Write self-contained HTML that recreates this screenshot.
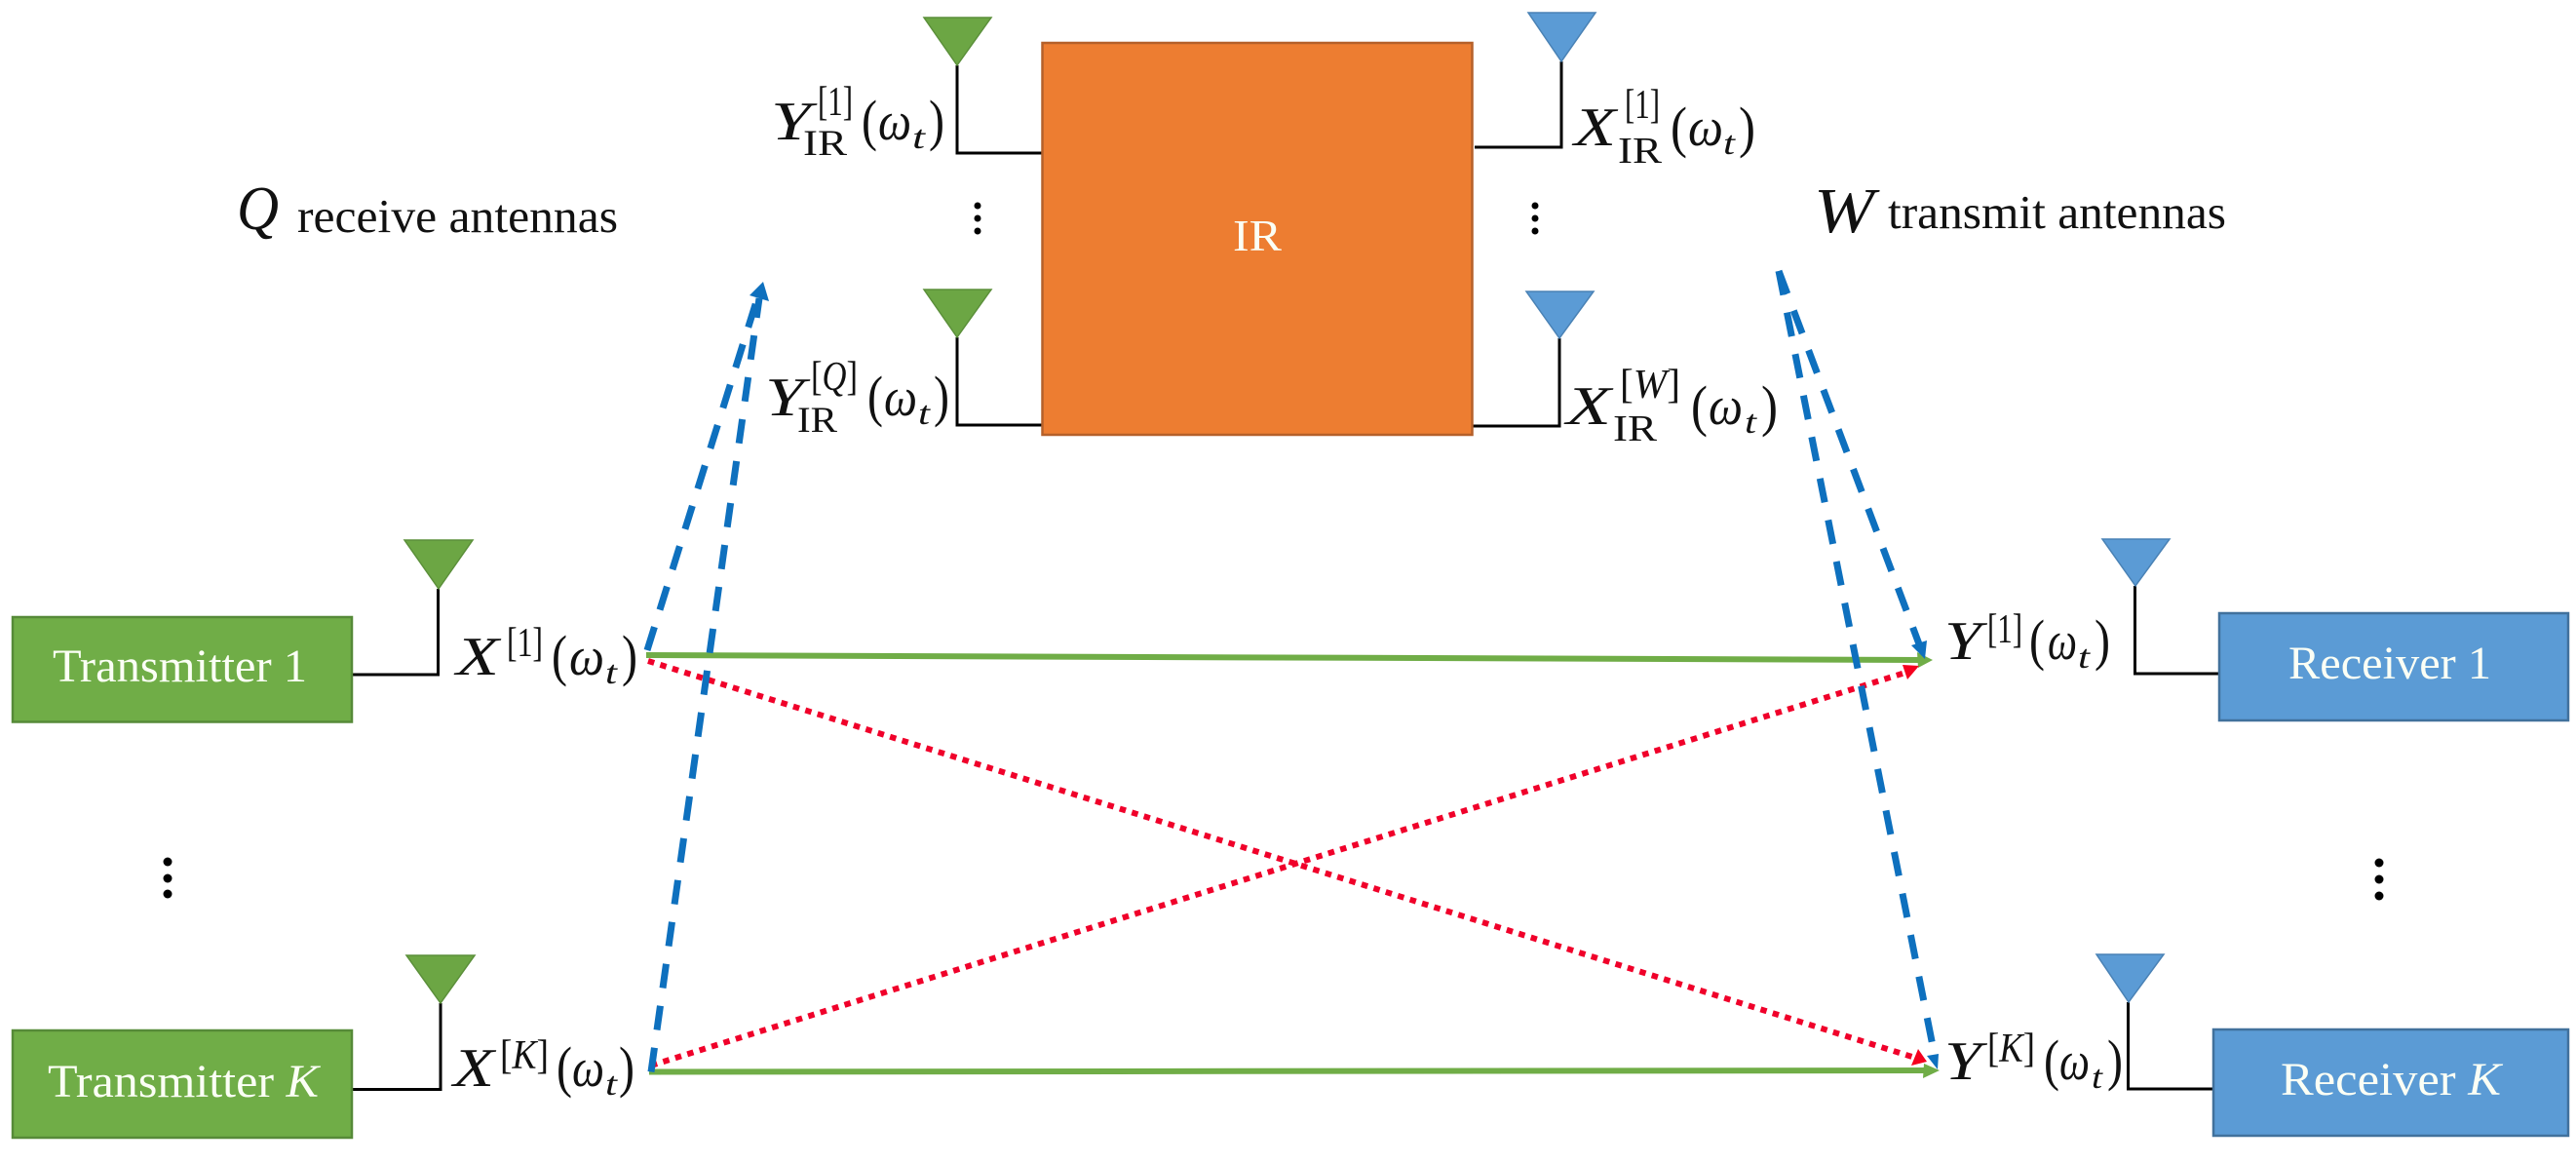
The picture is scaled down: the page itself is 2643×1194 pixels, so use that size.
<!DOCTYPE html>
<html><head><meta charset="utf-8"><style>
html,body{margin:0;padding:0;background:#fff}
svg{display:block}
text{font-family:"Liberation Serif",serif;fill:#111}
.i{font-style:italic}
.w{fill:#fbfff5}
.M{font-size:56px}
.S{font-size:42px}
.B{font-size:37px}
.P{font-size:58px;font-weight:normal}
.T{font-size:34px;font-style:italic}
.L{font-size:49px}
</style></head><body>
<svg width="2643" height="1194" viewBox="0 0 2643 1194" xmlns="http://www.w3.org/2000/svg">
<rect width="2643" height="1194" fill="#fff"/>

<!-- wiring -->
<g fill="none" stroke="#000" stroke-width="3">
<path d="M982 67V157H1069"/><path d="M982 346V436H1069"/>
<path d="M1602 63V151H1513"/><path d="M1600 347V437H1511"/>
<path d="M449.500 604V692H361"/><path d="M452 1029V1117.500H361"/>
<path d="M2190.500 601V691H2276"/><path d="M2183.500 1028V1117H2270"/>
</g>

<!-- boxes -->
<rect x="1069.500" y="44" width="441" height="402" fill="#ED7D31" stroke="#B5602A" stroke-width="2.500"/>
<rect x="13" y="633" width="348" height="107.500" fill="#70AD47" stroke="#568A38" stroke-width="2.500"/>
<rect x="13" y="1057" width="348" height="110" fill="#70AD47" stroke="#568A38" stroke-width="2.500"/>
<rect x="2277" y="629" width="358" height="110" fill="#5B9BD5" stroke="#41719C" stroke-width="2.500"/>
<rect x="2271" y="1056" width="364" height="109" fill="#5B9BD5" stroke="#41719C" stroke-width="2.500"/>

<!-- antennas -->
<g fill="#6CA644" stroke="#5B8F3A" stroke-width="1.500">
<polygon points="948,18 1017,18 982,67"/><polygon points="948,297 1017,297 982,346"/>
<polygon points="415,554 485,554 450,604"/><polygon points="417,980 487,980 452,1029"/>
</g>
<g fill="#5B9BD5" stroke="#4A82B5" stroke-width="1.500">
<polygon points="1568,13 1637,13 1602,63"/><polygon points="1566,299 1635,299 1600,347"/>
<polygon points="2157,553 2226,553 2191,601"/><polygon points="2151,979 2220,979 2184,1028"/>
</g>

<!-- dots -->
<g fill="#000">
<circle cx="1003" cy="211" r="3.500"/><circle cx="1003" cy="224" r="3.500"/><circle cx="1003" cy="237" r="3.500"/>
<circle cx="1575" cy="211" r="3.500"/><circle cx="1575" cy="224" r="3.500"/><circle cx="1575" cy="237" r="3.500"/>
<circle cx="172" cy="884" r="4.500"/><circle cx="172" cy="901" r="4.500"/><circle cx="172" cy="917" r="4.500"/>
<circle cx="2441" cy="885" r="4.500"/><circle cx="2441" cy="902" r="4.500"/><circle cx="2441" cy="919" r="4.500"/>
</g>

<!-- green arrows -->
<g stroke="#70AD47" stroke-width="6" fill="none">
<line x1="663" y1="672" x2="1975" y2="677"/>
<line x1="666" y1="1099.500" x2="1980" y2="1098"/>
</g>
<polygon points="1967,669 1983,677 1968,685" fill="#70AD47"/>
<polygon points="1974,1091 1990,1098 1973,1106" fill="#70AD47"/>

<!-- red dotted -->
<g stroke="#F0002A" stroke-width="6" fill="none" stroke-dasharray="6.500 6.500">
<line x1="665" y1="678" x2="1965" y2="1085"/>
<line x1="668" y1="1093" x2="1958" y2="689"/>
</g>
<polygon points="1952,682 1969,683 1957,697" fill="#F5001E"/>
<polygon points="1968,1076 1977,1089 1961,1093" fill="#F5001E"/>

<!-- blue dashed -->
<g stroke="#0E70BE" stroke-width="7" fill="none" stroke-dasharray="25 18.400">
<line x1="664" y1="667" x2="777" y2="306"/>
<line x1="668" y1="1099.500" x2="779" y2="306"/>
<line x1="1825" y1="278" x2="1971" y2="666"/>
<line x1="1825" y1="278" x2="1985" y2="1083"/>
</g>
<polygon points="769,303 789,309 783,289" fill="#0E70BE"/>
<polygon points="1961,662 1977,657 1975,676" fill="#0E70BE"/>
<polygon points="1977,1083 1989,1081 1988,1097" fill="#0E70BE"/>

<!-- box labels -->
<text class="w" x="1265" y="257" font-size="46" textLength="50" lengthAdjust="spacingAndGlyphs">IR</text>
<text class="w" x="54" y="699" font-size="48" textLength="261" lengthAdjust="spacingAndGlyphs">Transmitter 1</text>
<text class="w" x="49" y="1125" font-size="48" textLength="278" lengthAdjust="spacingAndGlyphs">Transmitter <tspan class="i">K</tspan></text>
<text class="w" x="2348" y="696" font-size="48" textLength="208" lengthAdjust="spacingAndGlyphs">Receiver 1</text>
<text class="w" x="2340" y="1123" font-size="48" textLength="226" lengthAdjust="spacingAndGlyphs">Receiver <tspan class="i">K</tspan></text>

<!-- side labels -->
<text class="i" x="243" y="235" font-size="64" textLength="43" lengthAdjust="spacingAndGlyphs">Q</text>
<text class="L" x="305" y="238" textLength="329" lengthAdjust="spacingAndGlyphs">receive antennas</text>
<text class="i" x="1861" y="238" font-size="66" textLength="62" lengthAdjust="spacingAndGlyphs">W</text>
<text class="L" x="1937" y="234" textLength="347" lengthAdjust="spacingAndGlyphs">transmit antennas</text>

<!-- Y_IR^[1] -->
<text class="M i" x="791" y="143" textLength="41" lengthAdjust="spacingAndGlyphs">Y</text>
<text class="S" x="839" y="118" textLength="36" lengthAdjust="spacingAndGlyphs">[1]</text>
<text class="B" x="824" y="159" textLength="45" lengthAdjust="spacingAndGlyphs">IR</text>
<text class="P" x="884" y="143" textLength="16" lengthAdjust="spacingAndGlyphs">(</text>
<text class="M i" x="901" y="143" textLength="34" lengthAdjust="spacingAndGlyphs">ω</text>
<text class="T" x="936" y="152" textLength="13" lengthAdjust="spacingAndGlyphs">t</text>
<text class="P" x="953" y="143" textLength="16" lengthAdjust="spacingAndGlyphs">)</text>

<!-- Y_IR^[Q] -->
<text class="M i" x="785" y="426" textLength="40" lengthAdjust="spacingAndGlyphs">Y</text>
<text class="S" x="832" y="400" textLength="48" lengthAdjust="spacingAndGlyphs">[<tspan class="i">Q</tspan>]</text>
<text class="B" x="818" y="443" textLength="41" lengthAdjust="spacingAndGlyphs">IR</text>
<text class="P" x="890" y="426" textLength="16" lengthAdjust="spacingAndGlyphs">(</text>
<text class="M i" x="907" y="426" textLength="34" lengthAdjust="spacingAndGlyphs">ω</text>
<text class="T" x="942" y="435" textLength="12" lengthAdjust="spacingAndGlyphs">t</text>
<text class="P" x="958" y="426" textLength="16" lengthAdjust="spacingAndGlyphs">)</text>

<!-- X_IR^[1] -->
<text class="M i" x="1615" y="149" textLength="43" lengthAdjust="spacingAndGlyphs">X</text>
<text class="S" x="1667" y="121" textLength="36" lengthAdjust="spacingAndGlyphs">[1]</text>
<text class="B" x="1660" y="167" style="font-size:38px" textLength="45" lengthAdjust="spacingAndGlyphs">IR</text>
<text class="P" x="1714" y="150" textLength="17" lengthAdjust="spacingAndGlyphs">(</text>
<text class="M i" x="1732" y="149" textLength="36" lengthAdjust="spacingAndGlyphs">ω</text>
<text class="T" x="1768" y="158" textLength="12" lengthAdjust="spacingAndGlyphs">t</text>
<text class="P" x="1784" y="150" textLength="17" lengthAdjust="spacingAndGlyphs">)</text>

<!-- X_IR^[W] -->
<text class="M i" x="1607" y="435" textLength="46" lengthAdjust="spacingAndGlyphs">X</text>
<text class="S" x="1662" y="408" textLength="62" lengthAdjust="spacingAndGlyphs">[<tspan class="i">W</tspan>]</text>
<text class="B" x="1655" y="452" style="font-size:38px" textLength="45" lengthAdjust="spacingAndGlyphs">IR</text>
<text class="P" x="1735" y="436" textLength="17" lengthAdjust="spacingAndGlyphs">(</text>
<text class="M i" x="1753" y="435" textLength="35" lengthAdjust="spacingAndGlyphs">ω</text>
<text class="T" x="1790" y="444" textLength="12" lengthAdjust="spacingAndGlyphs">t</text>
<text class="P" x="1807" y="436" textLength="17" lengthAdjust="spacingAndGlyphs">)</text>

<!-- X^[1] -->
<text class="M i" x="468" y="692" textLength="44" lengthAdjust="spacingAndGlyphs">X</text>
<text class="S" x="520" y="673" textLength="37" lengthAdjust="spacingAndGlyphs">[1]</text>
<text class="P" x="566" y="692" textLength="16" lengthAdjust="spacingAndGlyphs">(</text>
<text class="M i" x="584" y="692" textLength="36" lengthAdjust="spacingAndGlyphs">ω</text>
<text class="T" x="621" y="701" textLength="12" lengthAdjust="spacingAndGlyphs">t</text>
<text class="P" x="638" y="692" textLength="16" lengthAdjust="spacingAndGlyphs">)</text>

<!-- X^[K] -->
<text class="M i" x="465" y="1114" textLength="42" lengthAdjust="spacingAndGlyphs">X</text>
<text class="S" x="513" y="1096" textLength="50" lengthAdjust="spacingAndGlyphs">[<tspan class="i">K</tspan>]</text>
<text class="P" x="571" y="1114" textLength="16" lengthAdjust="spacingAndGlyphs">(</text>
<text class="M i" x="587" y="1114" textLength="33" lengthAdjust="spacingAndGlyphs">ω</text>
<text class="T" x="621" y="1123" textLength="12" lengthAdjust="spacingAndGlyphs">t</text>
<text class="P" x="635" y="1114" textLength="16" lengthAdjust="spacingAndGlyphs">)</text>

<!-- Y^[1] -->
<text class="M i" x="1995" y="676" textLength="38" lengthAdjust="spacingAndGlyphs">Y</text>
<text class="S" x="2039" y="659" textLength="36" lengthAdjust="spacingAndGlyphs">[1]</text>
<text class="P" x="2082" y="676" textLength="16" lengthAdjust="spacingAndGlyphs">(</text>
<text class="M i" x="2101" y="676" textLength="30" lengthAdjust="spacingAndGlyphs">ω</text>
<text class="T" x="2132" y="685" textLength="12" lengthAdjust="spacingAndGlyphs">t</text>
<text class="P" x="2149" y="676" textLength="16" lengthAdjust="spacingAndGlyphs">)</text>

<!-- Y^[K] -->
<text class="M i" x="1995" y="1107" textLength="38" lengthAdjust="spacingAndGlyphs">Y</text>
<text class="S" x="2039" y="1089" textLength="49" lengthAdjust="spacingAndGlyphs">[<tspan class="i">K</tspan>]</text>
<text class="P" x="2097" y="1107" textLength="16" lengthAdjust="spacingAndGlyphs">(</text>
<text class="M i" x="2113" y="1107" textLength="31" lengthAdjust="spacingAndGlyphs">ω</text>
<text class="T" x="2146" y="1116" textLength="11" lengthAdjust="spacingAndGlyphs">t</text>
<text class="P" x="2162" y="1107" textLength="16" lengthAdjust="spacingAndGlyphs">)</text>
</svg>
</body></html>
